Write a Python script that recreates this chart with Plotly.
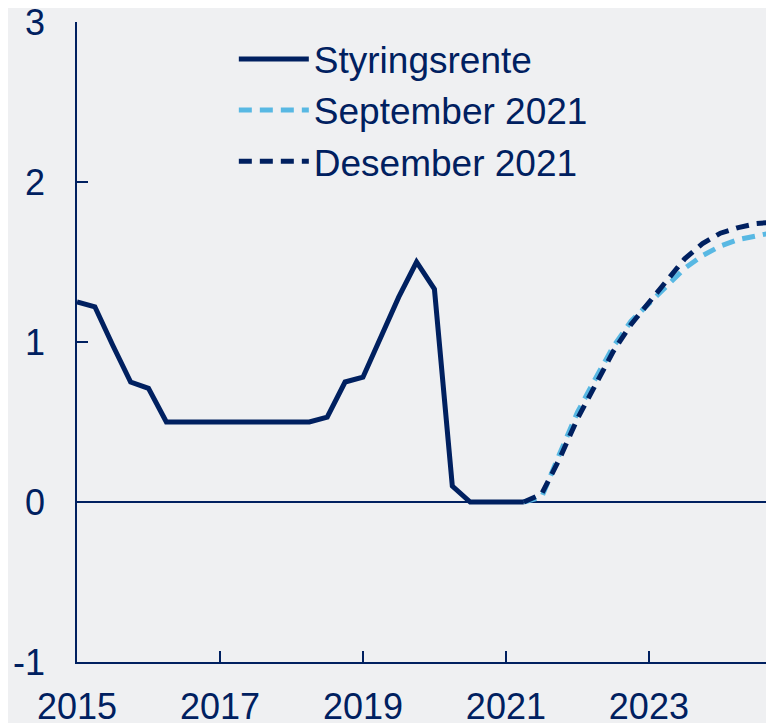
import plotly.graph_objects as go

# Quarterly policy rate (Styringsrente)
rate_x = [2015.0, 2015.25, 2015.5, 2015.75, 2016.0, 2016.25, 2016.5, 2016.75,
          2017.0, 2017.25, 2017.5, 2017.75, 2018.0, 2018.25, 2018.5, 2018.75,
          2019.0, 2019.25, 2019.5, 2019.75, 2020.0, 2020.25, 2020.5, 2020.75,
          2021.0, 2021.25]
rate_y = [1.25, 1.22, 0.98, 0.75, 0.71, 0.50, 0.50, 0.50,
          0.50, 0.50, 0.50, 0.50, 0.50, 0.50, 0.53, 0.75,
          0.78, 1.03, 1.28, 1.50, 1.33, 0.10, 0.0, 0.0,
          0.0, 0.0]

# Forecast paths
fc_x = [2021.25, 2021.5, 2021.75, 2022.0, 2022.25, 2022.5, 2022.75, 2023.0,
        2023.25, 2023.5, 2023.75, 2024.0, 2024.25, 2024.5, 2024.75]
sep_y = [0.0, 0.03, 0.30, 0.56, 0.77, 0.97, 1.13, 1.24,
         1.34, 1.46, 1.54, 1.60, 1.64, 1.665, 1.685]
dec_y = [0.0, 0.05, 0.27, 0.52, 0.73, 0.94, 1.11, 1.25,
         1.39, 1.52, 1.615, 1.68, 1.715, 1.74, 1.75]

year_ticks = [2015, 2017, 2019, 2021, 2023]
y_ticks = [-1, 0, 1, 2, 3]

NAVY = "#002060"
LIGHT = "#58B8E3"
BG = "#EFF0F2"
FONT = "Arial, Liberation Sans, sans-serif"

fig = go.Figure()
fig.add_trace(go.Scatter(x=rate_x, y=rate_y, mode="lines", name="Styringsrente",
                         line=dict(color=NAVY, width=5)))
fig.add_trace(go.Scatter(x=fc_x, y=sep_y, mode="lines", name="September 2021",
                         line=dict(color=LIGHT, width=5, dash="13px,8px")))
fig.add_trace(go.Scatter(x=fc_x, y=dec_y, mode="lines", name="Desember 2021",
                         line=dict(color=NAVY, width=5, dash="13px,8px")))

fig.update_layout(
    width=766, height=715,
    margin=dict(l=69, r=0, t=14, b=61, autoexpand=False),
    paper_bgcolor=BG, plot_bgcolor=BG,
    font=dict(family=FONT, size=36, color=NAVY),
    hovermode=False,
    showlegend=True,
    legend=dict(x=0.225, y=0.99, xanchor="left", yanchor="top",
                bgcolor="rgba(0,0,0,0)", font=dict(size=37, color=NAVY),
                itemwidth=70, tracegroupgap=0),
)
fig.update_xaxes(
    range=[2015, 2024.75], tickvals=year_ticks, ticktext=[str(t) for t in year_ticks],
    showgrid=False, zeroline=False, showline=True, linecolor=NAVY, linewidth=1.5,
    ticks="inside", ticklen=11, tickwidth=1.5, tickcolor=NAVY, automargin=False,
    ticklabelstandoff=12, ticklabeloverflow="allow", tickfont=dict(size=36, color=NAVY),
)
fig.update_yaxes(
    range=[-1, 3], tickvals=y_ticks, ticktext=[str(t) for t in y_ticks],
    showgrid=False, zeroline=True, zerolinecolor=NAVY, zerolinewidth=1.5,
    showline=True, linecolor=NAVY, linewidth=1.5, automargin=False,
    ticks="inside", ticklen=11, tickwidth=1.5, tickcolor=NAVY,
    ticklabelstandoff=23, ticklabeloverflow="allow", tickfont=dict(size=36, color=NAVY),
)

fig.write_html("out.html")
